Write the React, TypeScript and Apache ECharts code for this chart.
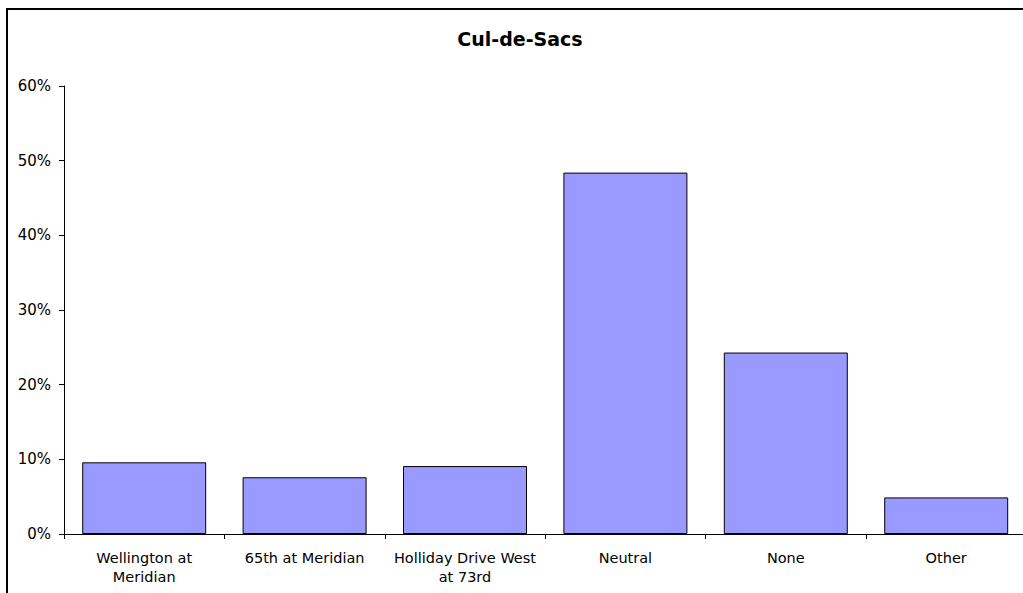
import React, { useEffect, useRef } from "react";
import * as echarts from "echarts";

const categories = [
  "Wellington at\nMeridian",
  "65th at Meridian",
  "Holliday Drive West\nat 73rd",
  "Neutral",
  "None",
  "Other",
];
const values = [9.6, 7.6, 9.1, 48.4, 24.3, 4.9];
const titleText = "Cul-de-Sacs";
const yMin = 0;
const yMax = 60;
const yStep = 10;

export default function App() {
  const ref = useRef<HTMLDivElement>(null);
  useEffect(() => {
    if (!ref.current) return;
    const chart = echarts.init(ref.current, null, { renderer: "svg" });
    const font = "'DejaVu Sans', Verdana, sans-serif";
    chart.setOption({
      animation: false,
      backgroundColor: "#ffffff",
      title: {
        text: titleText,
        left: "center",
        top: 29,
        padding: 0,
        textStyle: {
          fontSize: 19,
          fontWeight: "bold",
          fontFamily: font,
          color: "#000",
          lineHeight: 20,
        },
      },
      graphic: [
        {
          type: "rect",
          shape: { x: 7, y: 9, width: 1024, height: 640 },
          style: { fill: "none", stroke: "#000", lineWidth: 2 },
          silent: true,
        },
      ],
      grid: {
        left: 64,
        top: 86,
        width: 962.4,
        height: 448,
        containLabel: false,
        outerBoundsMode: "none",
      },
      xAxis: {
        type: "category",
        data: categories,
        boundaryGap: true,
        axisLine: { show: true, lineStyle: { color: "#000", width: 1 } },
        axisTick: { show: true, length: 5, alignWithLabel: false, lineStyle: { color: "#000" } },
        axisLabel: {
          interval: 0,
          margin: 14,
          fontSize: 14.5,
          lineHeight: 19,
          fontFamily: font,
          color: "#000",
          verticalAlign: "top",
        },
        splitLine: { show: false },
      },
      yAxis: {
        type: "value",
        min: yMin,
        max: yMax,
        interval: yStep,
        axisLine: { show: true, lineStyle: { color: "#000", width: 1 } },
        axisTick: { show: true, length: 5, lineStyle: { color: "#000" } },
        axisLabel: {
          formatter: "{value}%",
          margin: 13,
          fontSize: 15,
          fontFamily: font,
          color: "#000",
        },
        splitLine: { show: false },
      },
      series: [
        {
          type: "bar",
          data: values,
          barCategoryGap: "22.7%",
          itemStyle: {
            color: "#9999FF",
            borderColor: "#000",
            borderWidth: 1,
          },
        },
      ],
    });
    return () => chart.dispose();
  }, []);
  return (
    <div
      style={{
        position: "fixed",
        left: 0,
        top: 0,
        width: 1023,
        height: 593,
        overflow: "hidden",
        background: "#fff",
      }}
    >
      <div ref={ref} style={{ width: 1040, height: 610 }} />
    </div>
  );
}
